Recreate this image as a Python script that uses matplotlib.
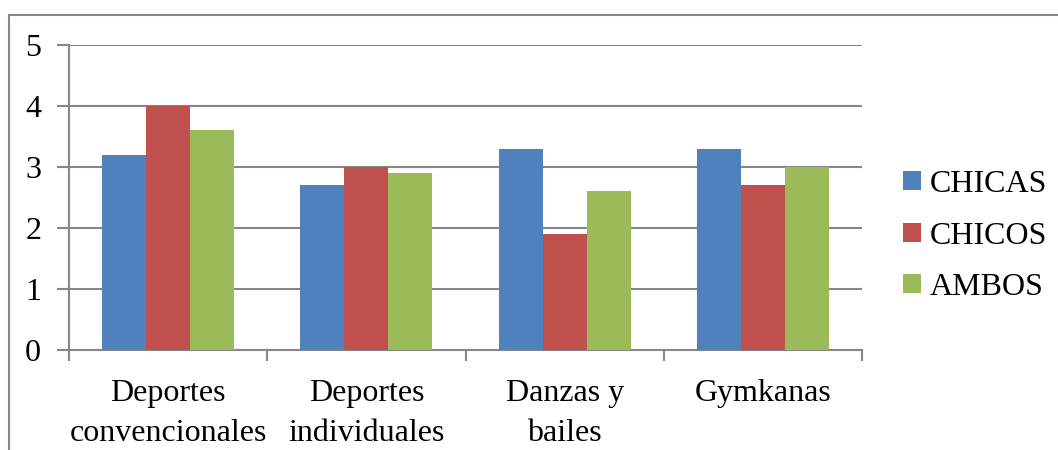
import numpy as np
import matplotlib
matplotlib.use('Agg')
from matplotlib import pyplot as plt
from matplotlib.patches import Rectangle

# data
categories = ['Deportes\nconvencionales', 'Deportes\nindividuales', 'Danzas y\nbailes', 'Gymkanas']
chicas = [3.2, 2.7, 3.3, 3.3]
chicos = [4.0, 3.0, 1.9, 2.7]
ambos = [3.6, 2.9, 2.6, 3.0]
series_names = ['CHICAS', 'CHICOS', 'AMBOS']
colors = ['#4F81BD', '#C0504D', '#9BBB59']

plt.rcParams['font.family'] = ['Liberation Serif', 'DejaVu Serif']
grey = '#878787'
fs = 23

fig = plt.figure(figsize=(10.58, 4.5), dpi=100)

# outer chart frame (only top and left edges visible in the crop)
fig.patches.append(Rectangle((9/1058, -0.2), 1.2, (450-15)/450 + 0.2, transform=fig.transFigure,
                             fill=False, edgecolor=grey, linewidth=1.5))

ax = fig.add_axes([69/1058, 100/450, (862-69)/1058, 305/450])

x = np.arange(len(categories))
w = 2/9
for k, vals in enumerate([chicas, chicos, ambos]):
    ax.bar(x + (k - 1)*w, vals, width=w, color=colors[k], label=series_names[k], zorder=3)

ax.set_xlim(-0.5, len(categories) - 0.5)
ax.set_ylim(0, 5)
ax.set_yticks(range(0, 6))
ax.yaxis.grid(True, color=grey, linewidth=1.5, zorder=0)
ax.set_xticks(x)
ax.set_xticklabels(categories, linespacing=1.5)
ax.set_xticks(np.arange(-0.5, len(categories)), minor=True)
ax.tick_params(axis='x', which='major', length=0, pad=21, labelsize=fs)
ax.tick_params(axis='x', which='minor', length=8, width=1.5, color=grey)
ax.tick_params(axis='y', length=9, width=1.5, color=grey, pad=11, labelsize=fs)

for s in ['top', 'right']:
    ax.spines[s].set_visible(False)
for s in ['left', 'bottom']:
    ax.spines[s].set_color(grey)
    ax.spines[s].set_linewidth(1.5)

fig.legend(loc='center left', bbox_to_anchor=(903/1058, (450-236)/450), frameon=False,
           fontsize=fs, handlelength=0.55, handleheight=0.55, handletextpad=0.3,
           labelspacing=0.7, borderpad=0, borderaxespad=0)

fig.savefig('out.png', dpi=100)
